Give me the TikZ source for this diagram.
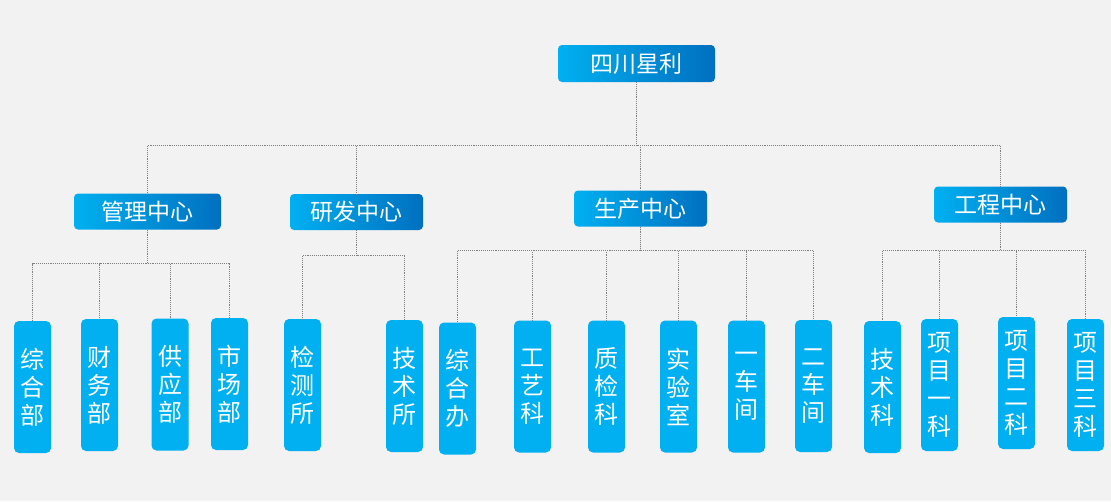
\documentclass[tikz,border=0pt]{standalone}
\usepackage{fontspec}
\setmainfont{Noto Sans CJK SC}
\usetikzlibrary{positioning}
\definecolor{bgcol}{RGB}{242,242,242}
\definecolor{skyA}{RGB}{0,176,240}
\definecolor{skyB}{RGB}{0,112,192}
\begin{document}
\begin{tikzpicture}[x=1pt,y=-1pt,
	head/.style={rounded corners=4pt,left color=skyA,right color=skyB,text=white,font=\fontsize{23}{24}\selectfont,inner sep=0pt,minimum height=36pt},
	leaf/.style={rounded corners=5pt,fill=skyA,text=white,font=\fontsize{24}{28}\selectfont,align=center,inner sep=0pt,minimum width=37pt,minimum height=132pt},
	link/.style={densely dotted,gray,line width=0.9pt}]
	\fill[bgcol] (0,0) rectangle (1111,501);
	\useasboundingbox (0,0) rectangle (1111,501);
							\node[head,minimum width=157pt,minimum height=37pt](T) at (636.5,63.5){四川星利};
							\foreach \x/\y/\w/\t [count=\n] in {147.5/211.5/147/管理中心,356.5/212/133/研发中心,640.5/208.5/133/生产中心,1000.5/204.5/133/工程中心}
           						\node[head,minimum width=\w pt](C\n) at (\x,\y){\t};
							\foreach \x/\y/\t [count=\n] in {32.5/387/{综\\合\\部},99.5/385/{财\\务\\部},170/384.5/{供\\应\\部},229.5/384/{市\\场\\部},302.5/385/{检\\测\\所},404.5/386/{技\\术\\所},457.5/388.5/{综\\合\\办},532.5/386.5/{工\\艺\\科},606.5/386.5/{质\\检\\科},678.5/386.5/{实\\验\\室},746.5/386.5/{一\\车\\间},813.5/386/{二\\车\\间},882.5/387/{技\\术\\科},939.5/385/{项\\目\\一\\科},1016.5/383/{项\\目\\二\\科},1085.5/385/{项\\目\\三\\科}}
           						\node[leaf](L\n) at (\x,\y){\t};
           					\foreach \c in {1,...,4}
           						\draw[link] (T.south) -- ++(0,63) -| (C\c.north);
           					\foreach \c/\d/\a/\b in {1/34/1/4,2/25/5/6,3/24/7/12,4/28/13/16}
           						\foreach \l in {\a,...,\b}
           							\draw[link] (C\c.south) -- ++(0,\d) -| (L\l.north);
           				\end{tikzpicture}
\end{document}
